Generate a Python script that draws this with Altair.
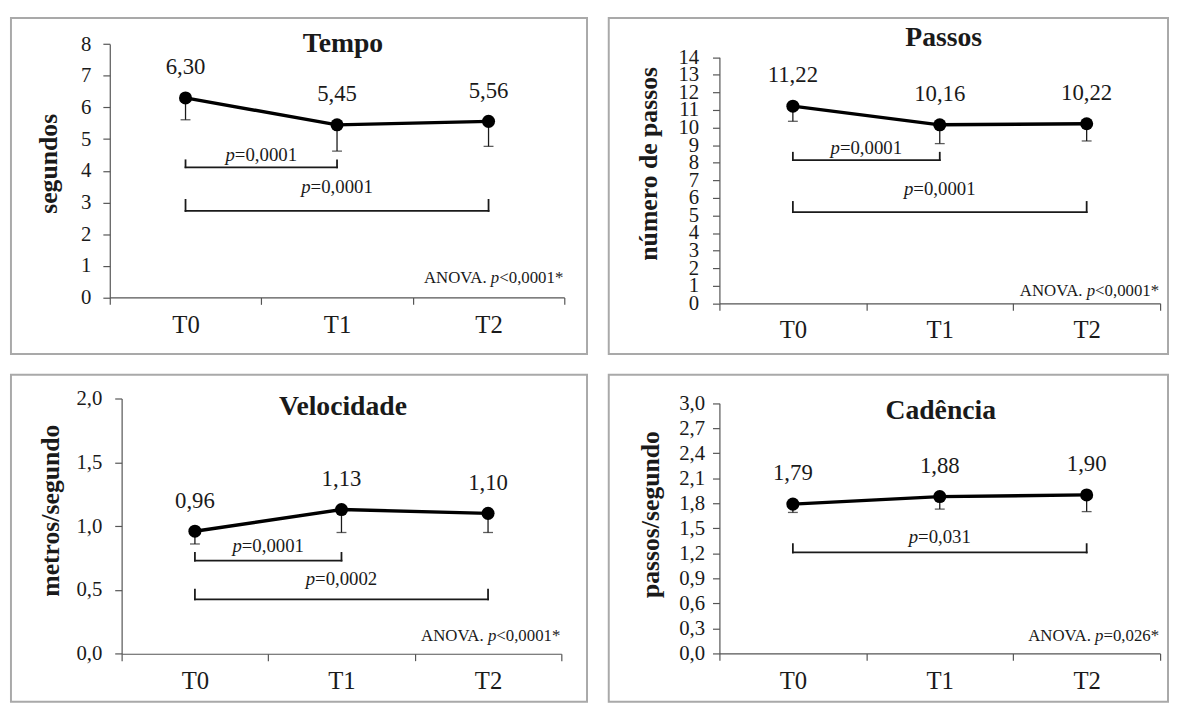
import altair as alt
import pandas as pd

FONT = "Liberation Serif"
INK = "#1a1a1a"
AXIS_INK = "#555555"

# ---------------- data ----------------
groups = ["T0", "T1", "T2"]

tempo_mean = [6.30, 5.45, 5.56]
tempo_low = [5.61, 4.62, 4.77]
passos_mean = [11.22, 10.16, 10.22]
passos_low = [10.36, 9.09, 9.24]
vel_mean = [0.96, 1.13, 1.10]
vel_low = [0.86, 0.95, 0.95]
cad_mean = [1.79, 1.88, 1.90]
cad_low = [1.69, 1.73, 1.70]

# pairwise comparisons: from group, to group, bracket level, end-tick top, label level, p value
tempo_br_from = [0, 0]
tempo_br_to = [1, 2]
tempo_br_level = [4.11, 2.73]
tempo_br_top = [4.33, 3.08]
tempo_br_label = [4.49, 3.48]
tempo_br_p = ["=0,0001", "=0,0001"]

passos_br_from = [0, 0]
passos_br_to = [1, 2]
passos_br_level = [8.15, 5.19]
passos_br_top = [8.57, 5.77]
passos_br_label = [8.86, 6.52]
passos_br_p = ["=0,0001", "=0,0001"]

vel_br_from = [0, 0]
vel_br_to = [1, 2]
vel_br_level = [0.73, 0.426]
vel_br_top = [0.79, 0.503]
vel_br_label = [0.846, 0.588]
vel_br_p = ["=0,0001", "=0,0002"]

cad_br_from = [0]
cad_br_to = [2]
cad_br_level = [1.21]
cad_br_top = [1.31]
cad_br_label = [1.39]
cad_br_p = ["=0,031"]

# ANOVA annotation: level and p text
tempo_anova = (0.61, "<0,0001*")
passos_anova = (0.70, "<0,0001*")
vel_anova = (0.14, "<0,0001*")
cad_anova = (0.205, "=0,026*")

tempo_ticks = list(range(0, 9))
passos_ticks = list(range(0, 15))
vel_ticks = [0.0, 0.5, 1.0, 1.5, 2.0]
cad_ticks = [0.0, 0.3, 0.6, 0.9, 1.2, 1.5, 1.8, 2.1, 2.4, 2.7, 3.0]

# ---------------- helpers ----------------
W = {"0": 500, "1": 500, "2": 500, "3": 500, "4": 500, "5": 500, "6": 500,
     "7": 500, "8": 500, "9": 500, ",": 250, ".": 250, "=": 564, "<": 564,
     "*": 500, " ": 250, "A": 722, "N": 722, "O": 722, "V": 722, "p": 500}


def tw(s, size):
    return sum(W.get(c, 500) for c in s) * size / 1000.0


def comma(v, d):
    return f"{v:.{d}f}".replace(".", ",")


def panel(title, ytitle, mean, low, bfrom, bto, blev, btop, blab, bp, anova,
          yticks, ydec, g):
    n = len(groups)
    xs = alt.Scale(domain=[-0.5, n - 0.5], range=[g["x0"], g["x1"]], nice=False, zero=False)
    ys = alt.Scale(domain=[yticks[0], yticks[-1]], range=[g["y0"], g["y1"]], nice=False, zero=False)

    xvals = [k / 2 - 0.5 for k in range(2 * n + 1)]
    lab_expr = " : ".join(f"datum.value == {i} ? '{c}'" for i, c in enumerate(groups)) + " : ''"
    xaxis = alt.Axis(
        values=xvals, labelExpr=lab_expr, grid=False, title=None,
        offset=g["xoff"], domainColor=AXIS_INK, domainWidth=1.2,
        tickColor=AXIS_INK, tickWidth=1.2, tickSize=7,
        tickOpacity={"condition": {"test": "datum.value % 1 != 0", "value": 1}, "value": 0},
        labelFont=FONT, labelFontSize=25, labelColor=INK, labelPadding=20,
        labelBaseline="middle", labelFlush=False, labelOverlap=False,
    )
    if ydec == 0:
        yexpr = "format(datum.value, 'd')"
    else:
        yexpr = f"replace(format(datum.value, '.{ydec}f'), '.', ',')"
    yaxis = alt.Axis(
        values=yticks, labelExpr=yexpr, grid=False, title=ytitle,
        offset=g["yoff"], domainColor=AXIS_INK, domainWidth=1.2,
        tickColor=AXIS_INK, tickWidth=1.2, tickSize=7,
        labelFont=FONT, labelFontSize=g["ylfs"], labelColor=INK,
        labelPadding=g["ylpad"], labelOverlap=False, labelFlush=False,
        titleFont=FONT, titleFontSize=26, titleFontWeight="bold", titleColor=INK,
        titleX=g["tx"], titleY=g["ty"], titleBaseline="middle", titleAlign="center",
        titleAngle=270,
    )

    def X(f):
        return alt.X(f"{f}:Q", scale=xs, axis=xaxis)

    def Y(f):
        return alt.Y(f"{f}:Q", scale=ys, axis=yaxis)

    df = pd.DataFrame({"i": list(range(n)), "mean": mean, "low": low,
                       "lab": [comma(v, 2) for v in mean]})
    bdf = pd.DataFrame({"a": bfrom, "b": bto, "lev": blev, "top": btop,
                        "ly": blab, "pt": bp})
    bdf["mid"] = (bdf["a"] + bdf["b"]) / 2
    adf = pd.DataFrame({"lev": [anova[0]], "pt": [anova[1]]})
    tdf = pd.DataFrame({"t": [title]})

    base = alt.Chart(df)
    line = base.mark_line(color="#000000", strokeWidth=3.4).encode(x=X("i"), y=Y("mean"))
    err = base.mark_rule(color=INK, strokeWidth=1.3).encode(x=X("i"), y=Y("mean"), y2="low")
    cap = base.mark_tick(orient="horizontal", size=10, thickness=1.3, color=INK).encode(
        x=X("i"), y=Y("low"))
    pts = base.mark_circle(size=175, color="#000000", opacity=1).encode(x=X("i"), y=Y("mean"))
    vlab = base.mark_text(font=FONT, fontSize=23, color=INK, dy=-31, baseline="middle").encode(
        x=X("i"), y=Y("mean"), text="lab:N")

    bb = alt.Chart(bdf)
    hbar = bb.mark_rule(color=INK, strokeWidth=1.8, strokeCap="square").encode(
        x=X("a"), x2="b", y=Y("lev"))
    lt = bb.mark_rule(color=INK, strokeWidth=1.8, strokeCap="square").encode(
        x=X("a"), y=Y("lev"), y2="top")
    rt = bb.mark_rule(color=INK, strokeWidth=1.8, strokeCap="square").encode(
        x=X("b"), y=Y("lev"), y2="top")
    bfs = 19
    total = tw("p", bfs) + tw(bp[0], bfs)
    split = -total / 2 + tw("p", bfs)
    pit = bb.mark_text(font=FONT, fontSize=bfs, fontStyle="italic", color=INK,
                       align="right", baseline="middle", dx=split).encode(
        x=X("mid"), y=Y("ly"), text=alt.value("p"))
    prest = bb.mark_text(font=FONT, fontSize=bfs, color=INK, align="left",
                         baseline="middle", dx=split).encode(
        x=X("mid"), y=Y("ly"), text="pt:N")

    afs = 17
    ab = alt.Chart(adf)
    d1 = -1
    d2 = d1 - tw(anova[1], afs)
    d3 = d2 - tw("p", afs) - tw(" ", afs)
    a1 = ab.mark_text(font=FONT, fontSize=afs, color=INK, align="right", baseline="middle",
                      dx=d1).encode(x=alt.value(g["x1"]), y=Y("lev"), text="pt:N")
    a2 = ab.mark_text(font=FONT, fontSize=afs, fontStyle="italic", color=INK, align="right",
                      baseline="middle", dx=d2).encode(x=alt.value(g["x1"]), y=Y("lev"),
                                                       text=alt.value("p"))
    a3 = ab.mark_text(font=FONT, fontSize=afs, color=INK, align="right", baseline="middle",
                      dx=d3).encode(x=alt.value(g["x1"]), y=Y("lev"), text=alt.value("ANOVA."))

    ttl = alt.Chart(tdf).mark_text(font=FONT, fontSize=28, fontWeight="bold", color=INK,
                                   align="center", baseline="middle").encode(
        x=alt.value(g["tcx"]), y=alt.value(g["tcy"]), text="t:N")

    return alt.layer(hbar, lt, rt, pit, prest, err, cap, line, pts, vlab, a1, a2, a3, ttl
                     ).properties(width=g["w"], height=g["h"])


g1 = dict(w=583, h=340, x0=100, x1=560, y0=282.7, y1=26.3, xoff=-57.3, yoff=-100,
          ylfs=21, ylpad=12, tx=-62, ty=147, tcx=336, tcy=26)
g2 = dict(w=566, h=340, x0=112, x1=558, y0=288.7, y1=39.7, xoff=-51.3, yoff=-112,
          ylfs=21, ylpad=14, tx=-72, ty=147, tcx=339, tcy=20)
g3 = dict(w=583, h=331, x0=112, x1=557, y0=282.3, y1=24, xoff=-48.7, yoff=-112,
          ylfs=21, ylpad=13, tx=-72, ty=137, tcx=336, tcy=33)
g4 = dict(w=566, h=331, x0=112, x1=558, y0=282, y1=28.7, xoff=-49, yoff=-112,
          ylfs=21, ylpad=8, tx=-70, ty=141, tcx=336, tcy=37)

p1 = panel("Tempo", "segundos", tempo_mean, tempo_low, tempo_br_from, tempo_br_to,
           tempo_br_level, tempo_br_top, tempo_br_label, tempo_br_p, tempo_anova,
           tempo_ticks, 0, g1)
p2 = panel("Passos", "número de passos", passos_mean, passos_low, passos_br_from, passos_br_to,
           passos_br_level, passos_br_top, passos_br_label, passos_br_p, passos_anova,
           passos_ticks, 0, g2)
p3 = panel("Velocidade", "metros/segundo", vel_mean, vel_low, vel_br_from, vel_br_to,
           vel_br_level, vel_br_top, vel_br_label, vel_br_p, vel_anova,
           vel_ticks, 1, g3)
p4 = panel("Cadência", "passos/segundo", cad_mean, cad_low, cad_br_from, cad_br_to,
           cad_br_level, cad_br_top, cad_br_label, cad_br_p, cad_anova,
           cad_ticks, 1, g4)

chart = alt.vconcat(
    alt.hconcat(p1, p2, spacing=20),
    alt.hconcat(p3, p4, spacing=20),
    spacing=19,
).properties(
    padding={"left": 2, "top": 5, "right": 0, "bottom": 0},
    background="white",
).configure_view(stroke="#a9a9a9", strokeWidth=2)

chart.save("out.html", embed_options={"renderer": "svg", "actions": False})
